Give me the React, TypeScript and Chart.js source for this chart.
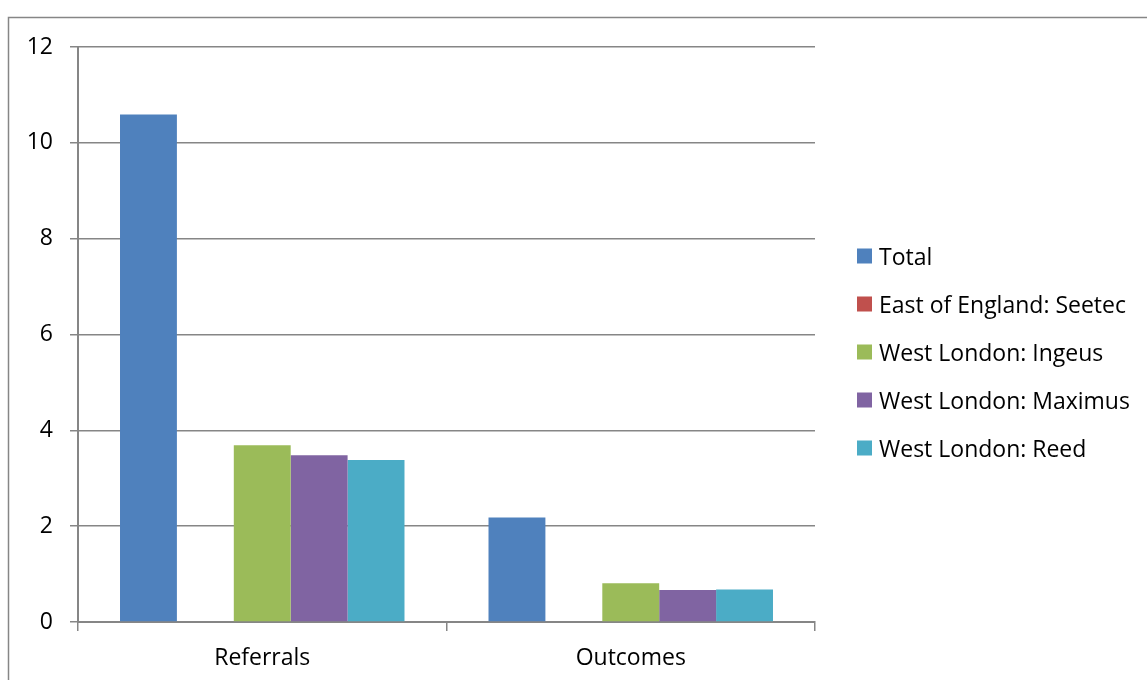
import React, { useEffect, useRef } from "react";
import { Chart, registerables } from "chart.js";

Chart.register(...registerables);

const categories = ["Referrals", "Outcomes"];
const seriesNames = [
  "Total",
  "East of England: Seetec",
  "West London: Ingeus",
  "West London: Maximus",
  "West London: Reed",
];
const totalValues = [10.59, 2.18];
const seetecValues = [0, 0];
const ingeusValues = [3.69, 0.81];
const maximusValues = [3.48, 0.67];
const reedValues = [3.38, 0.68];
const yTicks = [0, 2, 4, 6, 8, 10, 12];

const seriesColors = ["#4F81BD", "#C0504D", "#9BBB59", "#8064A2", "#4BACC6"];
const FONT = "'Open Sans', Lato, sans-serif";
const FONT_SIZE = 23;
const GRID = "#868686";

// Outer frame plus a hand-laid legend column at the right of the plot
const framePlugin = {
  id: "frameAndLegend",
  beforeDraw(chart: any) {
    const { ctx, width, height } = chart;
    ctx.save();
    ctx.fillStyle = "#ffffff";
    ctx.fillRect(0, 0, width, height);
    ctx.strokeStyle = GRID;
    ctx.lineWidth = 1.5;
    ctx.beginPath();
    ctx.moveTo(8.5, height);
    ctx.lineTo(8.5, 17.5);
    ctx.lineTo(width, 17.5);
    ctx.stroke();
    ctx.restore();
  },
  afterDraw(chart: any) {
    const { ctx, chartArea } = chart;
    const x0 = chartArea.right + 42;
    const y0 = 256;
    const step = 48;
    ctx.save();
    ctx.font = `${FONT_SIZE}px ${FONT}`;
    ctx.textBaseline = "middle";
    ctx.textAlign = "left";
    chart.data.datasets.forEach((ds: any, i: number) => {
      const cy = y0 + i * step;
      ctx.fillStyle = ds.backgroundColor;
      ctx.fillRect(x0, cy - 7.5, 15, 15);
      ctx.fillStyle = "#000000";
      ctx.fillText(ds.label, x0 + 22, cy + 2);
    });
    ctx.restore();
  },
};

export default function App() {
  const canvasRef = useRef<HTMLCanvasElement | null>(null);

  useEffect(() => {
    if (!canvasRef.current) return;
    const values = [totalValues, seetecValues, ingeusValues, maximusValues, reedValues];
    const chart = new Chart(canvasRef.current, {
      type: "bar",
      data: {
        labels: categories,
        datasets: seriesNames.map((name, i) => ({
          label: name,
          data: values[i],
          backgroundColor: seriesColors[i],
          borderWidth: 0,
          barPercentage: 1,
          categoryPercentage: 0.772,
        })),
      },
      options: {
        responsive: false,
        animation: false,
        layout: { padding: { top: 47, right: 332, left: 0, bottom: 0 } },
        plugins: {
          legend: { display: false },
          tooltip: { enabled: false },
        },
        scales: {
          x: {
            afterFit: (s: any) => {
              s.height = 58;
            },
            grid: {
              offset: true,
              drawOnChartArea: false,
              drawTicks: true,
              tickLength: 9,
              color: GRID,
              lineWidth: 1.5,
            },
            border: { color: GRID, width: 2 },
            ticks: {
              color: "#000000",
              font: { family: FONT, size: FONT_SIZE },
              padding: 14,
            },
          },
          y: {
            min: 0,
            max: 12,
            afterFit: (s: any) => {
              s.width = 78;
            },
            afterBuildTicks: (s: any) => {
              s.ticks = yTicks.map((v) => ({ value: v }));
            },
            grid: {
              color: GRID,
              lineWidth: 1.5,
              tickLength: 8,
            },
            border: { color: GRID, width: 2 },
            ticks: {
              color: "#000000",
              font: { family: FONT, size: FONT_SIZE },
              padding: 17,
            },
          },
        },
      },
      plugins: [framePlugin],
    });
    return () => chart.destroy();
  }, []);

  return (
    <div style={{ position: "absolute", left: 0, top: 0, width: 1147, height: 680 }}>
      <canvas ref={canvasRef} width={1147} height={680} style={{ width: 1147, height: 680 }} />
    </div>
  );
}
